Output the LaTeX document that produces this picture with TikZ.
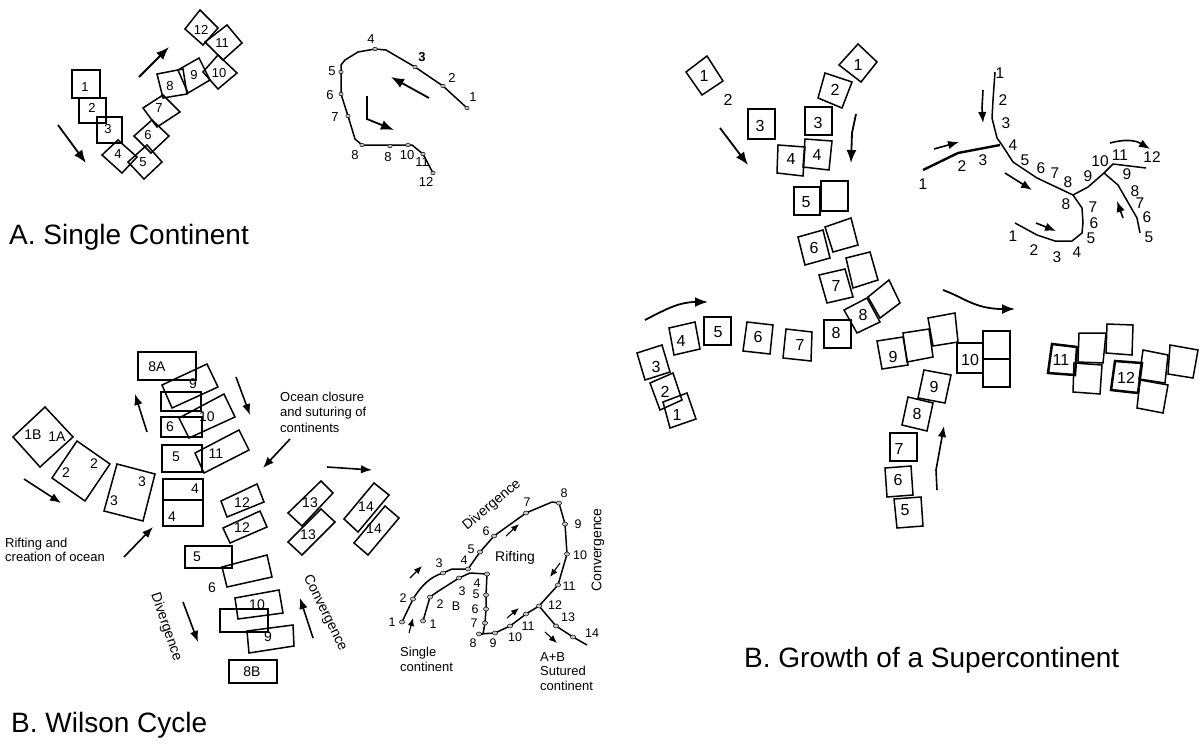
\documentclass[tikz,border=0pt]{standalone}
\usepackage{fontspec}
\setmainfont{Liberation Sans}
\usetikzlibrary{arrows.meta}
\begin{document}
\begin{tikzpicture}[x=1pt,y=-1pt,
 bx/.style={draw, line width=1.5pt, line join=miter},
 tbx/.style={draw, line width=2.5pt, line join=miter},
 ar/.style={line width=1.8pt, -{Latex[length=13pt,width=10pt]}},
 mar/.style={line width=1.6pt, -{Latex[length=11pt,width=8.5pt]}},
 sar/.style={line width=1.1pt, -{Latex[length=8pt,width=6.5pt]}},
 pl/.style={line width=1.5pt, line join=round},
 n/.style={inner sep=0pt, font=\fontsize{13}{13}\selectfont},
 nb/.style={inner sep=0pt, font=\fontsize{16}{16}\selectfont},
 nm/.style={inner sep=0pt, font=\fontsize{15.5}{15.5}\selectfont},
 nw/.style={inner sep=0pt, font=\fontsize{14}{14}\selectfont},
 np/.style={inner sep=0pt, font=\fontsize{12.5}{12.5}\selectfont},
 tx/.style={inner sep=0pt, font=\fontsize{13}{14.5}\selectfont, align=left},
 ttl/.style={inner sep=0pt, anchor=west, font=\fontsize{28}{28}\selectfont},
 dot/.style={draw=black, fill=gray!45, line width=0.5pt},
]
\useasboundingbox (0,0) rectangle (1200,747);
\fill[white] (0,0) rectangle (1200,747);

% ================= A. Single Continent =================
\draw[tbx] (72,70) rectangle (100,98);
\draw[bx] (79,98) rectangle (106,123);
\draw[bx] (97,117) rectangle (122,143);
\draw[bx] (118,140)--(137,157)--(122,173)--(102,155)--cycle;
\draw[bx] (147,145)--(162,162)--(144,179)--(128,162)--cycle;
\draw[bx] (152,120)--(169,136)--(151,153)--(134,136)--cycle;
\draw[bx] (163,95)--(180,112)--(157,127)--(143,108)--cycle;
\draw[bx] (157,74)--(183,69)--(187,94)--(163,98)--cycle;
\draw[bx] (178,70)--(199,58)--(210,80)--(188,93)--cycle;
\draw[bx] (218,55)--(237,73)--(218,89)--(203,72)--cycle;
\draw[bx] (227,25)--(242,43)--(223,60)--(205,42)--cycle;
\draw[bx] (200,10)--(218,28)--(203,45)--(185,29)--cycle;
\node[n] (a1) at (85,87) {1};
\node[n] (a2) at (92,108) {2};
\node[n] (a3) at (108,129) {3};
\node[n] (a4) at (118,154) {4};
\node[n] (a5) at (143,162) {5};
\node[n] (a6) at (148,135) {6};
\node[n] (a7) at (159,108) {7};
\node[n] (a8) at (170,86) {8};
\node[n] (a9) at (194,75) {9};
\node[n] (a10) at (219,73) {10};
\node[n] (a11) at (222,43) {11};
\node[n] (a12) at (201,30) {12};
\draw[ar] (58,125) -- (86,163);
\draw[ar] (139,77) -- (169,47);

% path plot A
\draw[pl] (467,108) -- (443,86) -- (415,67) -- (386,50) -- (375,49) -- (358,52) -- (345,60) -- (341,65) -- (341,94) -- (348,116) -- (355,139) -- (362,145) -- (412,145) -- (423,154) -- (433,173);
\foreach \p in {(467,108),(443,86),(415,67),(375,49),(341,72),(341,94),(348,116),(362,145),(390,146),(408,145),(423,154),(433,173)}
  \draw[dot] \p ellipse (2.2 and 1.8);
\node[n] (pa1) at (473,97) {1};
\node[n] (pa2) at (452,78) {2};
\node[n, font=\fontsize{13}{13}\selectfont\bfseries] (pa3) at (422,57) {3};
\node[n] (pa4) at (371,39) {4};
\node[n] (pa5) at (332,71) {5};
\node[n] (pa6) at (330,95) {6};
\node[n] (pa7) at (335,117) {7};
\node[n] (pa8) at (355,155) {8};
\node[n] (pa8b) at (388,157) {8};
\node[n] (pa10) at (407,155) {10};
\node[n] (pa11) at (422,162) {11};
\node[n] (pa12) at (426,182) {12};
\draw[ar] (429,98) -- (391,77);
\draw[ar] (367,96) -- (367,119) -- (394,130);

\node[ttl] (ta) at (9,237) {A. Single Continent};

% ================= B. Growth of a Supercontinent =================
\draw[bx] (686,72)--(707,56)--(723,81)--(702,95)--cycle;
\node[nb] (g1l) at (704,76) {1};
\node[nb] (g2l) at (728,100) {2};
\draw[bx] (748,109) rectangle (775,139);
\node[nb] (g3l) at (760,126) {3};
\draw[bx] (805,107) rectangle (832,135);
\node[nb] (g3r) at (818,123) {3};
\draw[bx] (839,65)--(858,44)--(877,62)--(861,82)--cycle;
\node[nb] (g1r) at (858,65) {1};
\draw[bx] (825,73)--(852,82)--(842,108)--(818,98)--cycle;
\node[nb] (g2r) at (835,90) {2};
\draw[bx] (778,145)--(805,147)--(803,176)--(777,173)--cycle;
\node[nb] (g4l) at (791,159) {4};
\draw[bx] (805,139)--(832,141)--(829,170)--(803,167)--cycle;
\node[nb] (g4r) at (817,155) {4};
\draw[tbx] (794,187) rectangle (820,215);
\node[nb] (g5) at (806,202) {5};
\draw[bx] (821,181) rectangle (848,211);
\draw[bx] (798,237)--(823,230)--(830,258)--(805,265)--cycle;
\node[nb] (g6) at (814,248) {6};
\draw[bx] (825,227)--(851,218)--(858,245)--(833,252)--cycle;
\draw[bx] (819,275)--(845,269)--(853,297)--(827,303)--cycle;
\node[nb] (g7) at (836,286) {7};
\draw[bx] (846,258)--(870,252)--(878,280)--(853,288)--cycle;
\draw[bx] (844,310)--(867,298)--(880,322)--(857,333)--cycle;
\node[nb] (g8d) at (863,315) {8};
\draw[bx] (868,297)--(889,280)--(900,303)--(880,318)--cycle;
\draw[ar] (720,128) -- (748,165);
\draw[ar] (856,114) -- (852,133) -- (851,163);

% bottom row
\draw[bx] (663,402)--(687,393)--(696,419)--(670,428)--cycle;
\node[nb] (r1) at (677,415) {1};
\draw[bx] (650,383)--(673,373)--(682,400)--(660,410)--cycle;
\node[nb] (r2) at (665,392) {2};
\draw[bx] (637,353)--(662,345)--(670,372)--(645,380)--cycle;
\node[nb] (r3) at (656,367) {3};
\draw[bx] (669,328)--(695,322)--(700,349)--(674,355)--cycle;
\node[nb] (r4) at (681,341) {4};
\draw[bx] (704,317) rectangle (731,345);
\node[nb] (r5) at (718,332) {5};
\draw[bx] (747,322)--(773,325)--(770,354)--(743,351)--cycle;
\node[nb] (r6) at (758,337) {6};
\draw[bx] (786,329)--(812,332)--(811,361)--(783,358)--cycle;
\node[nb] (r7) at (800,345) {7};
\draw[bx] (824,320) rectangle (851,348);
\node[nb] (r8) at (836,333) {8};
\draw[ar] (645,320) .. controls (668,308) and (680,302) .. (708,302);

\draw[bx] (877,341)--(903,337)--(908,365)--(882,369)--cycle;
\node[nb] (r9) at (893,357) {9};
\draw[bx] (903,333)--(929,329)--(933,357)--(907,362)--cycle;
\draw[bx] (928,318)--(955,313)--(958,342)--(933,346)--cycle;
\draw[bx] (957,343) rectangle (983,373);
\node[nb] (r10) at (970,360) {10};
\draw[tbx] (983,331) rectangle (1010,359);
\draw[tbx] (983,359) rectangle (1010,387);
\draw[tbx] (1052,344)--(1077,347)--(1075,375)--(1048,373)--cycle;
\node[nb] (r11) at (1061,360) {11};
\draw[bx] (1079,333)--(1106,333)--(1103,363)--(1078,362)--cycle;
\draw[bx] (1107,324)--(1133,325)--(1132,355)--(1106,353)--cycle;
\draw[bx] (1074,363)--(1102,365)--(1100,394)--(1073,392)--cycle;
\draw[tbx] (1115,361)--(1142,363)--(1138,393)--(1111,390)--cycle;
\node[nb] (r12) at (1126,378) {12};
\draw[bx] (1143,350)--(1168,355)--(1165,383)--(1139,379)--cycle;
\draw[bx] (1170,345)--(1198,350)--(1193,378)--(1168,374)--cycle;
\draw[bx] (1140,380)--(1168,385)--(1163,413)--(1137,408)--cycle;
\draw[ar] (943,290) .. controls (965,298) and (975,309) .. (1015,309);

% lower branch
\draw[bx] (924,370)--(951,375)--(945,403)--(918,398)--cycle;
\node[nb] (u9) at (934,387) {9};
\draw[bx] (908,397)--(933,403)--(927,431)--(902,425)--cycle;
\node[nb] (u8) at (917,414) {8};
\draw[bx] (890,433) rectangle (917,461);
\node[nb] (u7) at (899,449) {7};
\draw[bx] (885,468)--(911,466)--(913,495)--(887,497)--cycle;
\node[nb] (u6) at (898,480) {6};
\draw[bx] (894,499)--(921,497)--(923,526)--(897,528)--cycle;
\node[nb] (u5) at (905,510) {5};
\draw[mar] (937,490) -- (936,470) -- (944,426);

% right path diagram of B
\draw[pl] (995,72) -- (993,100) -- (992,118) -- (997,138) -- (1002,145) -- (1013,162) -- (1037,178) -- (1073,195) -- (1088,187) -- (1104,173) -- (1113,164) -- (1146,168);
\draw[line width=2.4pt, line join=round] (923,170) -- (958,153) -- (1000,145);
\draw[pl] (1073,195) -- (1082,208) -- (1083,223) -- (1082,233) -- (1072,241) -- (1055,241) -- (1037,235) -- (1015,223);
\draw[pl] (1104,173) -- (1118,185) -- (1137,218) -- (1140,233);
\foreach \t/\x/\y [count=\i] in {1/1000/73,2/1003/100,3/1006/123,4/1013/145,5/1025/160,6/1041/168,7/1055/173,8/1068/182,9/1088/176,10/1100/161,11/1120/155,12/1152/157,
 1/923/184,2/962/166,3/983/160,
 8/1066/204,7/1093/207,6/1094/223,5/1091/238,4/1077/252,3/1057/257,2/1034/250,1/1013/236,
 9/1127/174,8/1135/191,7/1140/203,6/1147/217,5/1149/237}
  \node[nm] (pb\i) at (\x,\y) {\t};
\draw[mar] (983,90) -- (982,108) -- (983,123);
\draw[mar] (934,149) -- (959,142);
\draw[mar] (1005,173) -- (1032,190);
\draw[mar] (1036,223) -- (1056,231);
\draw[mar] (1123,218) -- (1117,201);
\draw[mar] (1110,143) .. controls (1125,139) and (1135,140) .. (1150,149);

\node[ttl] (tb) at (744,660) {B. Growth of a Supercontinent};

% ================= B. Wilson Cycle =================
\draw[bx] (45,407)--(73,437)--(40,467)--(13,437)--cycle;
\node[nw] (w1b) at (33,435) {1B};
\node[nw] (w1a) at (57,437) {1A};
\draw[bx] (77,441)--(110,464)--(85,501)--(52,478)--cycle;
\node[nw] (w2a) at (94,464) {2};
\node[nw] (w2b) at (66,473) {2};
\draw[bx] (117,464)--(155,474)--(143,521)--(104,511)--cycle;
\node[nw] (w3a) at (142,482) {3};
\node[nw] (w3b) at (114,501) {3};
\draw[tbx] (163,479) rectangle (203,500);
\node[nw] (w4a) at (195,489) {4};
\draw[bx] (163,500) rectangle (203,526);
\node[nw] (w4b) at (172,517) {4};
\draw[bx] (162,445) rectangle (202,472);
\node[nw] (w5) at (176,457) {5};
\draw[bx] (161,417) rectangle (202,437);
\node[nw] (w6) at (170,427) {6};
\draw[bx] (161,392) rectangle (201,411);
\draw[tbx] (138,352) rectangle (196,380);
\node[nw] (w8a) at (157,367) {8A};
\draw[bx] (162,385)--(207,364)--(218,387)--(172,408)--cycle;
\node[nw] (w9) at (193,384) {9};
\draw[bx] (179,418)--(224,394)--(235,417)--(189,438)--cycle;
\node[nw] (w10) at (207,417) {10};
\draw[bx] (195,453)--(239,430)--(249,450)--(204,473)--cycle;
\node[nw] (w11) at (216,454) {11};
\draw[bx] (221,501)--(257,484)--(264,502)--(227,517)--cycle;
\node[nw] (w12a) at (242,503) {12};
\draw[bx] (223,528)--(260,511)--(267,527)--(230,543)--cycle;
\node[nw] (w12b) at (242,528) {12};
\draw[bx] (185,546) rectangle (232,568);
\node[nw] (w5b) at (197,557) {5};
\draw[bx] (222,567)--(267,555)--(272,577)--(227,587)--cycle;
\node[nw] (w6b) at (212,588) {6};
\draw[bx] (235,598)--(279,590)--(283,613)--(238,619)--cycle;
\node[nw] (w10b) at (257,605) {10};
\draw[bx] (220,609) rectangle (268,632);
\draw[bx] (247,631)--(293,625)--(294,646)--(249,653)--cycle;
\node[nw] (w9b) at (268,637) {9};
\draw[tbx] (229,660) rectangle (277,683);
\node[nw] (w8b) at (252,672) {8B};
\draw[bx] (288,513)--(321,481)--(333,493)--(302,526)--cycle;
\node[nw] (w13a) at (310,503) {13};
\draw[bx] (288,542)--(321,509)--(335,522)--(302,555)--cycle;
\node[nw] (w13b) at (308,535) {13};
\draw[bx] (344,519)--(374,483)--(389,495)--(358,532)--cycle;
\node[nw] (w14a) at (366,507) {14};
\draw[bx] (354,543)--(385,506)--(399,518)--(368,555)--cycle;
\node[nw] (w14b) at (374,529) {14};

\draw[mar] (147,432) -- (135,394);
\draw[mar] (236,377) -- (250,415);
\draw[mar] (24,479) -- (61,503);
\draw[mar] (124,557) -- (153,527);
\draw[mar] (290,439) -- (263,468);
\draw[mar] (327,467) -- (372,470);
\draw[mar] (183,602) -- (198,642);
\draw[mar] (313,638) -- (300,598);

\node[tx, anchor=west] (rift) at (5,550) {Rifting and\\creation of ocean};
\node[tx, anchor=north west] (ocean) at (280,392) {Ocean closure\\and suturing of\\[2pt]continents};
\node[inner sep=0pt, font=\fontsize{14}{14}\selectfont, rotate=-71] (div1) at (166,627) {Divergence};
\node[inner sep=0pt, font=\fontsize{14}{14}\selectfont, rotate=-64] (conv1) at (325,613) {Convergence};

% Wilson path diagram
\draw[pl] (402,622) -- (413,599) .. controls (422,585) and (430,577) .. (443,573) -- (452,569) -- (468,569) -- (480,552) -- (494,536) -- (526,513) -- (552,502) -- (559,503) -- (565,524) -- (567,554) -- (558,585) -- (539,606) -- (556,626) -- (573,637) -- (587,645);
\draw[pl] (423,621) -- (430,597) -- (437,592) -- (459,578) -- (470,573) -- (487,574) -- (486,595) -- (486,609) -- (485,623) -- (483,634) -- (479,634) -- (495,633) -- (510,626) -- (526,614) -- (539,606);
\foreach \p in {(402,622),(413,599),(443,573),(468,569),(480,552),(494,536),(526,513),(559,503),(565,524),(567,554),(558,585),(539,606),(556,626),(573,637),
 (423,621),(430,597),(459,578),(487,574),(486,595),(486,609),(485,623),(479,634),(495,633),(510,626),(526,614)}
  \draw[dot] \p ellipse (2.6 and 2.0);
\foreach \t/\x/\y [count=\i] in {1/392/622,2/403/598,3/439/563,4/464/560,5/471/549,6/486/531,7/527/502,8/564/493,9/578/524,10/580/555,11/569/586,12/555/605,13/568/617,14/592/633,
 1/433/624,2/440/604,B/456/606,3/462/591,4/477/583,5/476/594,6/475/609,7/474/623,8/473/643,9/493/643,10/515/637,11/528/626}
  \node[np] (wp\i) at (\x,\y) {\t};
\node[nw] (rifting) at (515,558) {Rifting};
\node[inner sep=0pt, font=\fontsize{14}{14}\selectfont, rotate=40] (div2) at (492,505) {Divergence};
\node[inner sep=0pt, font=\fontsize{14}{14}\selectfont, rotate=90] (conv2) at (598,550) {Convergence};
\node[tx, anchor=north west] (single) at (400,647) {Single\\continent};
\node[tx, anchor=north west] (sutured) at (540,652) {A+B\\Sutured\\continent};
\draw[sar] (410,578) -- (422,566);
\draw[sar] (409,633) -- (413,618);
\draw[sar] (506,536) -- (519,524);
\draw[sar] (560,563) -- (550,577);
\draw[sar] (507,618) -- (519,608);
\draw[sar] (545,632) -- (557,643);

\node[ttl] (tw) at (11,725) {B. Wilson Cycle};
\end{tikzpicture}
\end{document}
